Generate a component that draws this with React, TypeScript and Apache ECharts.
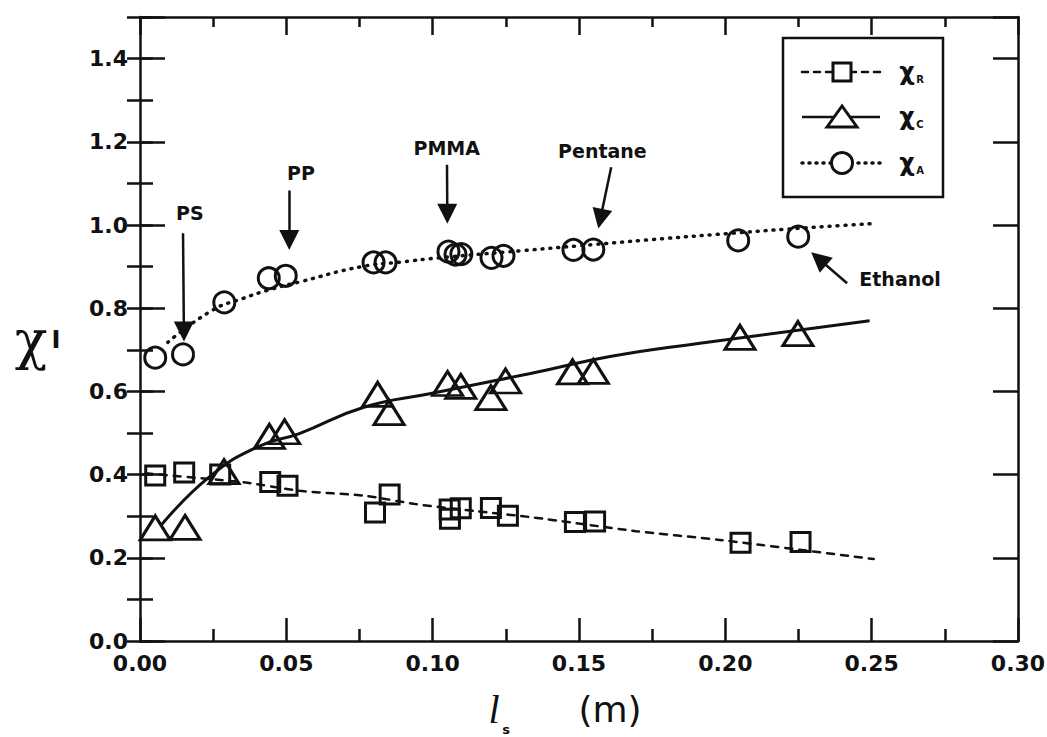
import React, { useEffect, useRef } from "react";
import * as echarts from "echarts";

// ---- tick labels ----
const xTickLabels = ["0.00", "0.05", "0.10", "0.15", "0.20", "0.25", "0.30"];
const yTickLabels = ["0.0", "0.2", "0.4", "0.6", "0.8", "1.0", "1.2", "1.4"];

// ---- measured points [l_s (m), chi] ----
const chiR: [number, number][] = [
  [0.0052, 0.398], [0.0151, 0.405], [0.0274, 0.4], [0.0445, 0.382], [0.0504, 0.373],
  [0.0803, 0.309], [0.0853, 0.352], [0.1058, 0.316], [0.1059, 0.294], [0.1096, 0.319],
  [0.1199, 0.32], [0.1257, 0.301], [0.1486, 0.286], [0.1555, 0.287], [0.2052, 0.236],
  [0.2257, 0.238],
];
const chiC: [number, number][] = [
  [0.0052, 0.272], [0.0154, 0.273], [0.0287, 0.407], [0.0442, 0.492], [0.0494, 0.503],
  [0.0812, 0.593], [0.0851, 0.549], [0.1051, 0.619], [0.1096, 0.612], [0.1199, 0.585],
  [0.1249, 0.625], [0.1478, 0.647], [0.1549, 0.648], [0.205, 0.73], [0.2248, 0.739],
];
const chiA: [number, number][] = [
  [0.0052, 0.681], [0.0147, 0.689], [0.0288, 0.814], [0.044, 0.872], [0.0498, 0.878],
  [0.0798, 0.91], [0.0839, 0.91], [0.1054, 0.936], [0.1078, 0.929], [0.1098, 0.93],
  [0.1201, 0.921], [0.1242, 0.926], [0.1481, 0.94], [0.1549, 0.941], [0.2044, 0.963],
  [0.2249, 0.972],
];

// ---- fitted curves ----
const chiRFit: [number, number][] = [
  [0.002, 0.403], [0.036, 0.381], [0.0545, 0.361], [0.0771, 0.349], [0.0942, 0.329],
  [0.1148, 0.312], [0.1343, 0.297], [0.1695, 0.264], [0.198, 0.243], [0.2507, 0.197],
];
const chiCFit: [number, number][] = [
  [0.0072, 0.278], [0.0236, 0.394], [0.0406, 0.468], [0.0542, 0.498], [0.0765, 0.562],
  [0.0994, 0.595], [0.1334, 0.643], [0.1606, 0.684], [0.1913, 0.716], [0.2493, 0.77],
];
const chiAFit: [number, number][] = [
  [0.0095, 0.718], [0.0247, 0.795], [0.035, 0.823], [0.045, 0.846], [0.055, 0.864],
  [0.0757, 0.9], [0.0893, 0.911], [0.102, 0.921], [0.13, 0.938], [0.15, 0.95],
  [0.175, 0.965], [0.2, 0.979], [0.225, 0.992], [0.2498, 1.003],
];

// ---- annotations (data coords) ----
const annoNames = ["PS", "PP", "PMMA", "Pentane", "Ethanol"];
const annoText: [number, number][] = [
  [0.017, 1.03], [0.055, 1.124], [0.1048, 1.184], [0.158, 1.177], [0.2456, 0.87],
];
const annoFrom: [number, number][] = [
  [0.0147, 0.98], [0.051, 1.083], [0.1049, 1.145], [0.161, 1.139], [0.2416, 0.86],
];
const annoTo: [number, number][] = [
  [0.015, 0.744], [0.051, 0.964], [0.105, 1.027], [0.1573, 1.015], [0.2319, 0.919],
];

const INK = "#111";
const FONT = "DejaVu Sans";

export default function App() {
  const ref = useRef<HTMLDivElement>(null);
  useEffect(() => {
    if (!ref.current) return;
    const chart = echarts.init(ref.current, null, { renderer: "svg" });

    const xAxisBase = {
      type: "value",
      min: 0,
      max: 0.3,
      interval: 0.05,
      splitLine: { show: false },
      axisLine: { show: true, onZero: false, lineStyle: { color: INK, width: 2.5 } },
    };
    const yAxisBase = (interval: number) => ({
      type: "value",
      min: 0,
      max: 1.5,
      interval,
      splitLine: { show: false },
      axisLine: { show: true, onZero: false, lineStyle: { color: INK, width: 2.5 } },
    });

    const markerStyle = {
      color: "rgba(255,255,255,0)",
      borderColor: INK,
      borderWidth: 3,
      opacity: 1,
    };

    const legendRows = [
      { y: 72, dash: [6, 6], sub: "R", kind: "rect" },
      { y: 117, dash: null, sub: "C", kind: "tri" },
      { y: 163, dash: [1, 6], sub: "A", kind: "circ" },
    ];
    const legendGraphics: any[] = [
      {
        type: "rect",
        shape: { x: 783, y: 38, width: 160, height: 159 },
        style: { fill: "#fff", stroke: INK, lineWidth: 2.5 },
        z: 100,
      },
    ];
    legendRows.forEach((r) => {
      legendGraphics.push({
        type: "line",
        shape: { x1: 802, y1: r.y, x2: 880, y2: r.y },
        style: {
          stroke: INK,
          lineWidth: r.kind === "circ" ? 3.5 : 2.5,
          lineDash: r.dash || undefined,
          lineCap: r.dash ? "round" : "butt",
        },
        z: 101,
      });
      if (r.kind === "rect") {
        legendGraphics.push({
          type: "rect",
          shape: { x: 833, y: r.y - 9, width: 18, height: 18 },
          style: { fill: "#fff", stroke: INK, lineWidth: 3 },
          z: 102,
        });
      } else if (r.kind === "tri") {
        legendGraphics.push({
          type: "polygon",
          shape: { points: [[827, r.y + 10], [842, r.y - 11], [857, r.y + 10]] },
          style: { fill: "#fff", stroke: INK, lineWidth: 3 },
          z: 102,
        });
      } else {
        legendGraphics.push({
          type: "circle",
          shape: { cx: 842, cy: r.y, r: 10.5 },
          style: { fill: "#fff", stroke: INK, lineWidth: 3 },
          z: 102,
        });
      }
      legendGraphics.push({
        type: "text",
        style: {
          text: "χ",
          x: 907,
          y: r.y,
          align: "center",
          verticalAlign: "middle",
          font: `bold 24px "${FONT}"`,
          fill: INK,
        },
        z: 102,
      });
      legendGraphics.push({
        type: "text",
        style: {
          text: r.sub,
          x: 920,
          y: r.y + 7,
          align: "center",
          verticalAlign: "middle",
          font: `bold 10px "${FONT}"`,
          fill: INK,
        },
        z: 102,
      });
    });

    const titleGraphics: any[] = [
      {
        type: "text",
        style: {
          text: "χ",
          x: 31,
          y: 340,
          align: "center",
          verticalAlign: "middle",
          font: `54px "DejaVu Serif"`,
          fill: INK,
        },
      },
      {
        type: "text",
        style: {
          text: "I",
          x: 56,
          y: 340,
          align: "center",
          verticalAlign: "middle",
          font: `bold 24px "DejaVu Sans"`,
          fill: INK,
        },
      },
      {
        type: "text",
        style: {
          text: "l",
          x: 494,
          y: 709,
          align: "center",
          verticalAlign: "middle",
          font: `italic 40px "Liberation Serif"`,
          fill: INK,
        },
      },
      {
        type: "text",
        style: {
          text: "s",
          x: 506,
          y: 729,
          align: "center",
          verticalAlign: "middle",
          font: `bold 13px "${FONT}"`,
          fill: INK,
        },
      },
      {
        type: "text",
        style: {
          text: "(m)",
          x: 610,
          y: 709,
          align: "center",
          verticalAlign: "middle",
          font: `36px "${FONT}"`,
          fill: INK,
        },
      },
    ];

    const option: any = {
      animation: false,
      backgroundColor: "#fff",
      grid: { left: 140, right: 29, top: 17, bottom: 96, outerBoundsMode: "none" },
      xAxis: [
        {
          ...xAxisBase,
          position: "bottom",
          axisTick: { show: true, inside: true, length: 23, lineStyle: { color: INK, width: 2.5 } },
          minorTick: { show: true, splitNumber: 2, length: 12, lineStyle: { color: INK, width: 2.5 } },
          axisLabel: {
            show: true,
            margin: 11,
            color: INK,
            fontFamily: FONT,
            fontWeight: "bold",
            fontSize: 22,
            formatter: (v: number) => {
              const i = Math.round(v / 0.05);
              return Math.abs(v - i * 0.05) < 1e-6 ? xTickLabels[i] ?? "" : "";
            },
          },
        },
        {
          ...xAxisBase,
          position: "top",
          axisTick: { show: true, inside: true, length: 18, lineStyle: { color: INK, width: 2.5 } },
          minorTick: { show: true, splitNumber: 2, length: 10, lineStyle: { color: INK, width: 2.5 } },
          axisLabel: { show: false },
        },
      ],
      yAxis: [
        {
          ...yAxisBase(0.2),
          position: "left",
          axisTick: { show: true, inside: true, length: 25, lineStyle: { color: INK, width: 2.5 } },
          axisLabel: {
            show: true,
            margin: 12,
            color: INK,
            fontFamily: FONT,
            fontWeight: "bold",
            fontSize: 22,
            formatter: (v: number) => {
              const i = Math.round(v / 0.2);
              return Math.abs(v - i * 0.2) < 1e-6 ? yTickLabels[i] ?? "" : "";
            },
          },
        },
        {
          ...yAxisBase(0.1),
          position: "left",
          axisLine: { show: false },
          axisTick: { show: true, inside: true, length: 13, lineStyle: { color: INK, width: 2.5 } },
          axisLabel: { show: false },
        },
        {
          ...yAxisBase(0.2),
          position: "right",
          axisTick: { show: true, inside: true, length: 25, lineStyle: { color: INK, width: 2.5 } },
          axisLabel: { show: false },
        },
        {
          ...yAxisBase(0.1),
          position: "right",
          axisLine: { show: false },
          axisTick: { show: true, inside: true, length: 13, lineStyle: { color: INK, width: 2.5 } },
          axisLabel: { show: false },
        },
      ],
      series: [
        {
          name: "χR fit",
          type: "line",
          data: chiRFit,
          smooth: 0.2,
          showSymbol: false,
          symbol: "none",
          lineStyle: { color: INK, width: 2.5, type: [7, 7], cap: "round" },
          z: 2,
        },
        {
          name: "χC fit",
          type: "line",
          data: chiCFit,
          smooth: true,
          showSymbol: false,
          symbol: "none",
          lineStyle: { color: INK, width: 3, type: "solid" },
          z: 2,
        },
        {
          name: "χA fit",
          type: "line",
          data: chiAFit,
          smooth: true,
          showSymbol: false,
          symbol: "none",
          lineStyle: { color: INK, width: 3.5, type: [1, 7], cap: "round" },
          z: 2,
        },
        {
          name: "χR",
          type: "scatter",
          data: chiR,
          symbol: "rect",
          symbolSize: 19,
          itemStyle: markerStyle,
          z: 3,
        },
        {
          name: "χC",
          type: "scatter",
          data: chiC,
          symbol: "triangle",
          symbolSize: [30, 24],
          itemStyle: markerStyle,
          z: 3,
        },
        {
          name: "χA",
          type: "scatter",
          data: chiA,
          symbol: "circle",
          symbolSize: 21,
          itemStyle: markerStyle,
          z: 3,
        },
        {
          name: "annotations",
          type: "scatter",
          symbol: "circle",
          symbolSize: 1,
          itemStyle: { color: "rgba(0,0,0,0)", opacity: 1 },
          silent: true,
          z: 4,
          data: annoNames.map((n, i) => ({
            name: n,
            value: annoText[i],
            label: {
              show: true,
              position: n === "Ethanol" ? "right" : "inside",
              distance: 0,
              formatter: "{b}",
              color: INK,
              opacity: 1,
              fontFamily: FONT,
              fontWeight: "bold",
              fontSize: 19,
            },
          })),
          markLine: {
            silent: true,
            animation: false,
            symbol: ["none", "triangle"],
            symbolSize: 20,
            label: { show: false },
            lineStyle: { color: INK, width: 2.5, type: "solid", opacity: 1 },
            emphasis: { disabled: true },
            data: annoNames.map((_, i) => [{ coord: annoFrom[i] }, { coord: annoTo[i] }]),
          },
        },
      ],
      graphic: [...legendGraphics, ...titleGraphics],
    };

    chart.setOption(option);
    return () => chart.dispose();
  }, []);

  return (
    <div
      ref={ref}
      style={{ position: "fixed", left: 0, top: 0, width: 1047, height: 737, background: "#fff" }}
    />
  );
}
